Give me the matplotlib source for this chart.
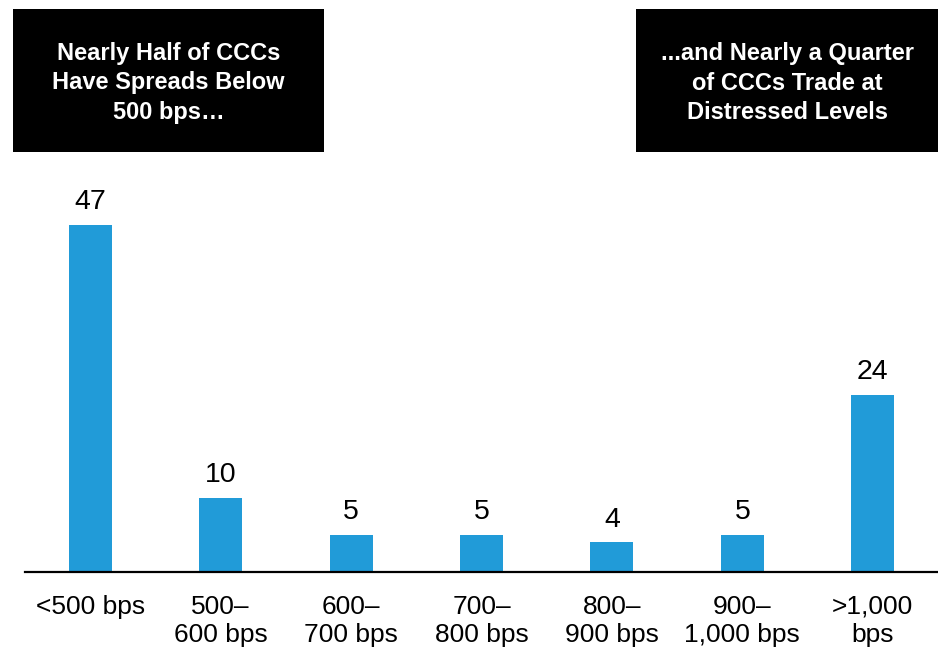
import matplotlib.pyplot as plt
from matplotlib.patches import Rectangle

categories = ['<500 bps', '500–\n600 bps', '600–\n700 bps', '700–\n800 bps',
              '800–\n900 bps', '900–\n1,000 bps', '>1,000\nbps']
values = [47, 10, 5, 5, 4, 5, 24]
left_note = 'Nearly Half of CCCs\nHave Spreads Below\n500 bps…'
right_note = '...and Nearly a Quarter\nof CCCs Trade at\nDistressed Levels'

plt.rcParams['font.family'] = ['Liberation Sans', 'DejaVu Sans']

W, H = 938, 647
fig = plt.figure(figsize=(W / 100, H / 100), dpi=100)
ax = fig.add_axes([25 / W, (H - 572) / H, 913 / W, (572 - 160) / H])

xs = range(len(values))
bars = ax.bar(xs, values, width=0.33, color='#219bd8')
for b, v in zip(bars, values):
    ax.annotate(str(v), (b.get_x() + b.get_width() / 2, v), xytext=(0, 7),
                textcoords='offset points', ha='center', va='bottom', fontsize=20.5)

ax.set_xlim(-0.5, 6.5)
ax.set_ylim(0, 55.8)
ax.set_xticks(list(xs))
ax.set_xticklabels(categories, fontsize=19, linespacing=1.24, va='top')
ax.tick_params(axis='x', length=0, pad=16.5)
ax.set_yticks([])
for s in ['top', 'left', 'right']:
    ax.spines[s].set_visible(False)
ax.spines['bottom'].set_linewidth(1.6)

def note(x0, x1, text):
    fig.patches.append(Rectangle((x0 / W, 1 - 152 / H), (x1 - x0) / W, 143 / H,
                                 transform=fig.transFigure, facecolor='black',
                                 edgecolor='none'))
    fig.text((x0 + x1) / 2 / W, 1 - 83 / H, text, color='white', fontsize=17,
             fontweight='bold', ha='center', va='center', linespacing=1.36)

note(13, 324, left_note)
note(636, 938, right_note)

fig.savefig('out.png', dpi=100)
